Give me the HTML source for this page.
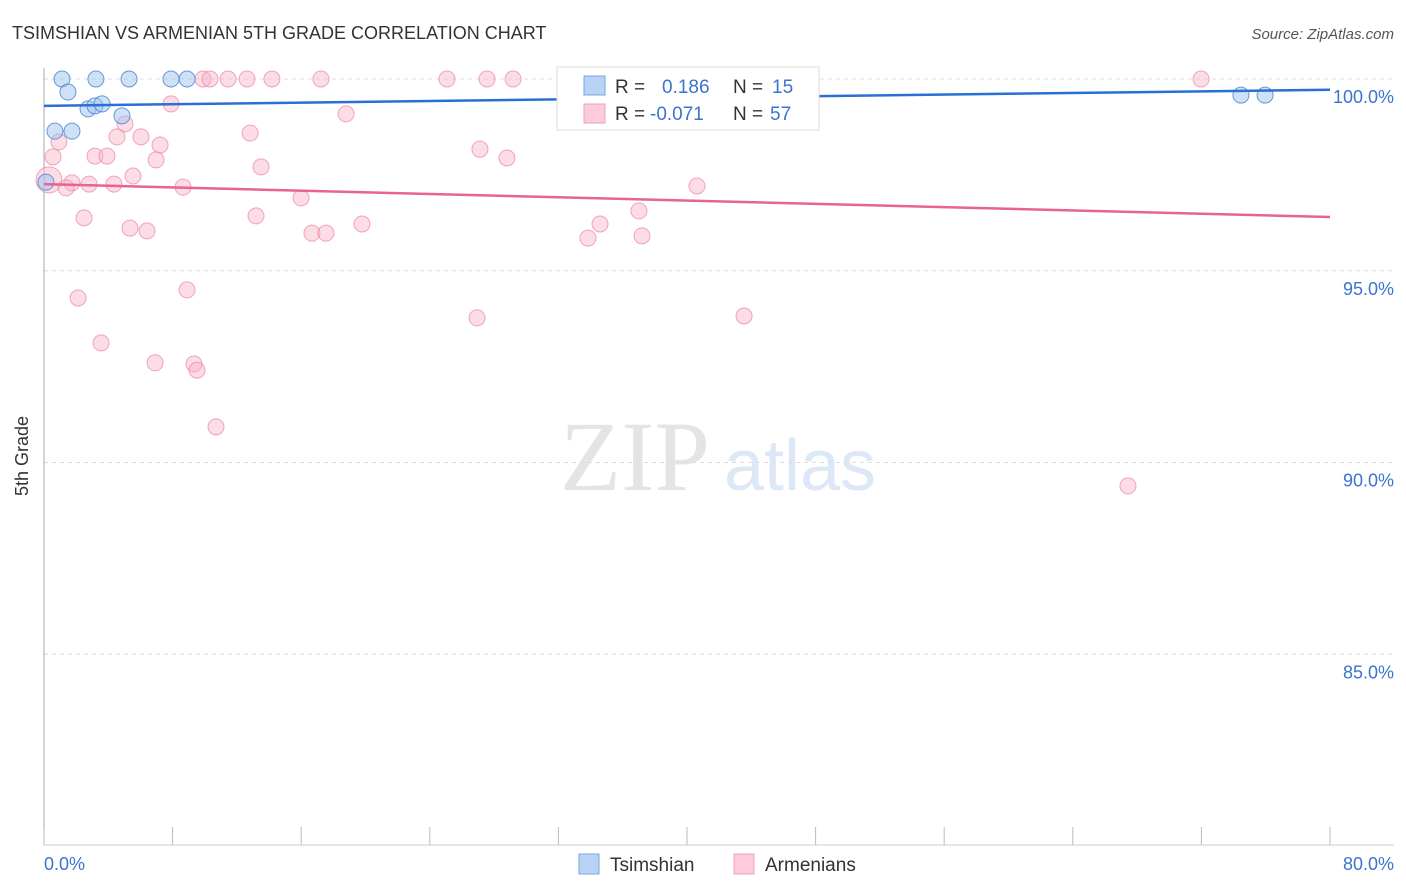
<!DOCTYPE html>
<html><head><meta charset="utf-8"><style>
body{margin:0;background:#fff;font-family:"Liberation Sans",sans-serif}
svg{display:block}
</style></head><body>
<svg id="c" width="1406" height="892">
<text x="12" y="39" font-size="18" fill="#333">TSIMSHIAN VS ARMENIAN 5TH GRADE CORRELATION CHART</text>
<text x="1394" y="39" font-size="15" fill="#555" font-style="italic" text-anchor="end">Source: ZipAtlas.com</text>
<g>
<text x="635" y="490" font-size="100" fill="#e4e4e4" font-family="Liberation Serif" text-anchor="middle">ZIP</text>
<text x="800" y="490" font-size="72" fill="#dce8f6" text-anchor="middle">atlas</text>
</g>
<g id="grid"></g>
<line x1="44" y1="68" x2="44" y2="845" stroke="#aaa"/>
<line x1="44" y1="845" x2="1394" y2="845" stroke="#ccc"/>
<g id="xt"></g>
<text x="28" y="456" font-size="18" fill="#333" transform="rotate(-90 28 456)" text-anchor="middle">5th Grade</text>
<text x="44" y="870" font-size="18" fill="#3b73cf">0.0%</text>
<text x="1394" y="870" font-size="18" fill="#3b73cf" text-anchor="end">80.0%</text>
<g id="pts"></g>
<g id="lines"></g>
<g>
<rect x="557" y="67" width="262" height="63" fill="#fff" stroke="#ddd"/>
<rect x="584" y="76" width="21" height="19" fill="#b8d3f5" stroke="#7aa6e0"/>
<rect x="584" y="104" width="21" height="19" fill="#fdcbd9" stroke="#f0a0b8"/>
<text x="615" y="93" font-size="19" fill="#333">R = </text><text x="662" y="93" font-size="19" fill="#3b73cf">0.186</text>
<text x="733" y="93" font-size="19" fill="#333">N = </text><text x="772" y="93" font-size="19" fill="#3b73cf">15</text>
<text x="615" y="120" font-size="19" fill="#333">R = </text><text x="650" y="120" font-size="19" fill="#3b73cf">-0.071</text>
<text x="733" y="120" font-size="19" fill="#333">N = </text><text x="770" y="120" font-size="19" fill="#3b73cf">57</text>
</g>
<g>
<rect x="579" y="854" width="20" height="20" fill="#b8d3f5" stroke="#7aa6e0"/>
<text x="610" y="871" font-size="19" fill="#333">Tsimshian</text>
<rect x="734" y="854" width="20" height="20" fill="#fdcbd9" stroke="#f0a0b8"/>
<text x="765" y="871" font-size="19" fill="#333">Armenians</text>
</g>
</svg>
<script>
const yTicks=[100,95,90,85];
const blueX=[1.12,3.23,5.29,7.9,8.9,1.49,2.74,3.17,3.61,4.85,0.68,1.74,0.12,74.46,75.96];
const blueY=[100,100,100,100,100,99.66,99.22,99.3,99.35,99.04,98.64,98.64,97.31,99.58,99.58];
const pinkX=[9.89,10.33,11.45,12.63,14.18,17.23,25.07,27.56,29.18,32.78,71.98,7.9,18.79,5.04,12.82,6.03,4.54,0.93,7.22,27.12,0.56,3.17,3.92,6.97,28.8,13.5,5.54,0.31,1.74,2.8,4.35,1.37,8.65,40.62,15.99,2.49,13.19,19.78,5.35,6.41,16.67,17.54,34.59,33.84,37.2,37.01,2.12,8.9,26.94,43.55,3.55,6.91,9.33,9.52,10.7,67.43,38.5];
const pinkY=[100,100,100,100,100,100,100,100,100,100,100,99.35,99.09,98.83,98.59,98.49,98.49,98.36,98.28,98.17,97.97,97.99,97.99,97.89,97.94,97.71,97.47,97.37,97.29,97.26,97.26,97.16,97.18,97.21,96.9,96.38,96.43,96.22,96.11,96.04,95.98,95.98,96.22,95.85,95.91,96.56,94.29,94.5,93.77,93.82,93.12,92.6,92.57,92.41,90.93,89.39,99.6];
const blueTrend=[99.3,99.72];
const pinkTrend=[97.26,96.4];
const X=v=>44+v/80*1286, Y=v=>79+(100-v)*38.35;
const NS='http://www.w3.org/2000/svg';
function mk(t,p,a){const e=document.createElementNS(NS,t);for(const k in a)e.setAttribute(k,a[k]);document.getElementById(p).appendChild(e);return e;}
yTicks.forEach(t=>{
 const l=mk('line','grid',{x1:44,x2:1394,y1:Y(t),y2:Y(t),stroke:'#ddd','stroke-dasharray':'4,4'});
 
 
 const tx=mk('text','grid',{x:1394,y:Y(t)+24,'font-size':18,fill:'#3b73cf','text-anchor':'end'});
 tx.textContent=t.toFixed(1)+'%';
 
 
});
for(let i=0;i<=10;i++){
 const l=mk('line','xt',{x1:X(i*8),x2:X(i*8),y1:827,y2:845,stroke:'#bbb'});
 
 
}
pinkX.forEach((x,i)=>{
 const c=mk('circle','pts',{cx:X(x),cy:Y(pinkY[i]),r:i==27?13:8,fill:'rgba(248,180,200,0.45)',stroke:'rgba(235,130,160,0.7)'});
 
 
});
blueX.forEach((x,i)=>{
 const c=mk('circle','pts',{cx:X(x),cy:Y(blueY[i]),r:8,fill:'rgba(160,195,240,0.5)',stroke:'rgba(70,130,210,0.8)'});
 
 
});
const b=mk('line','lines',{x1:X(0),x2:X(80),y1:Y(blueTrend[0]),y2:Y(blueTrend[1]),stroke:'#2a6fd6','stroke-width':2.5});


const p=mk('line','lines',{x1:X(0),x2:X(80),y1:Y(pinkTrend[0]),y2:Y(pinkTrend[1]),stroke:'#e8638f','stroke-width':2.5});


</script>
</body></html>
